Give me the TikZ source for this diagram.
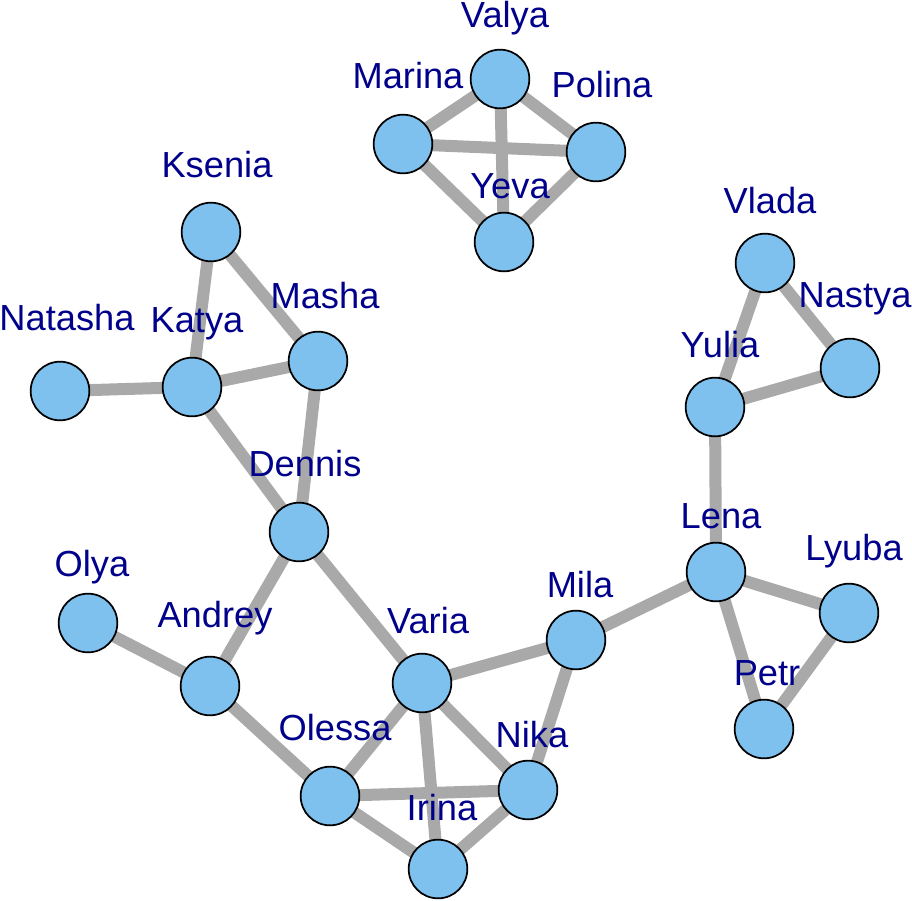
\documentclass[tikz,border=0pt]{standalone}
\usepackage{fontspec}
\setmainfont{Liberation Sans}
\usetikzlibrary{backgrounds}
\definecolor{vertexblue}{HTML}{7EC0EE}
\definecolor{tiegray}{HTML}{A9A9A9}
\definecolor{nameblue}{HTML}{00008B}

\begin{document}
\begin{tikzpicture}[x=0.75pt,y=-0.75pt,
    vertex/.style={circle, draw=black, line width=1.3pt, fill=vertexblue, minimum size=44pt, inner sep=0pt},
    namelabel/.style={anchor=base, text=nameblue, font=\fontsize{27.2}{30}\selectfont, inner sep=0pt},
    tieline/.style={draw=tiegray, line width=9pt}]
  \useasboundingbox (0,0) rectangle (912,900);

  % Top group
  \node[vertex] (valya) at (500,79) {};
  \node[vertex] (marina) at (403,144) {};
  \node[vertex] (polina) at (596,152) {};
  \node[vertex] (yeva) at (504,242) {};

  % Left group
  \node[vertex] (ksenia) at (211,232) {};
  \node[vertex] (natasha) at (60,391) {};
  \node[vertex] (katya) at (192,387) {};
  \node[vertex] (masha) at (318,361) {};
  \node[vertex] (dennis) at (299,532) {};

  % Right group
  \node[vertex] (vlada) at (765,263) {};
  \node[vertex] (nastya) at (850,368) {};
  \node[vertex] (yulia) at (715,407) {};
  \node[vertex] (lena) at (716,572) {};
  \node[vertex] (lyuba) at (849,613) {};
  \node[vertex] (petr) at (764,729) {};
  \node[vertex] (mila) at (576,640) {};

  % Bottom group
  \node[vertex] (olya) at (88,623) {};
  \node[vertex] (andrey) at (210,686) {};
  \node[vertex] (varia) at (422,683) {};
  \node[vertex] (olessa) at (330,796) {};
  \node[vertex] (nika) at (528,790) {};
  \node[vertex] (irina) at (438,869) {};

  % Ties, kept under the vertices
  \begin{pgfonlayer}{background}
    \draw[tieline] (valya.center) -- (marina.center);
    \draw[tieline] (valya.center) -- (polina.center);
    \draw[tieline] (valya.center) -- (yeva.center);
    \draw[tieline] (marina.center) -- (polina.center);
    \draw[tieline] (marina.center) -- (yeva.center);
    \draw[tieline] (polina.center) -- (yeva.center);

    \draw[tieline] (ksenia.center) -- (katya.center);
    \draw[tieline] (ksenia.center) -- (masha.center);
    \draw[tieline] (natasha.center) -- (katya.center);
    \draw[tieline] (katya.center) -- (masha.center);
    \draw[tieline] (katya.center) -- (dennis.center);
    \draw[tieline] (masha.center) -- (dennis.center);
    \draw[tieline] (dennis.center) -- (andrey.center);
    \draw[tieline] (dennis.center) -- (varia.center);

    \draw[tieline] (olya.center) -- (andrey.center);
    \draw[tieline] (andrey.center) -- (olessa.center);
    \draw[tieline] (varia.center) -- (olessa.center);
    \draw[tieline] (varia.center) -- (irina.center);
    \draw[tieline] (varia.center) -- (nika.center);
    \draw[tieline] (varia.center) -- (mila.center);
    \draw[tieline] (olessa.center) -- (nika.center);
    \draw[tieline] (olessa.center) -- (irina.center);
    \draw[tieline] (irina.center) -- (nika.center);

    \draw[tieline] (mila.center) -- (nika.center);
    \draw[tieline] (mila.center) -- (lena.center);
    \draw[tieline] (lena.center) -- (yulia.center);
    \draw[tieline] (lena.center) -- (lyuba.center);
    \draw[tieline] (lena.center) -- (petr.center);
    \draw[tieline] (lyuba.center) -- (petr.center);
    \draw[tieline] (yulia.center) -- (vlada.center);
    \draw[tieline] (yulia.center) -- (nastya.center);
    \draw[tieline] (vlada.center) -- (nastya.center);
  \end{pgfonlayer}

  % Names
  \node[namelabel] (valya-name) at (505,27) {Valya};
  \node[namelabel] (marina-name) at (408,88) {Marina};
  \node[namelabel] (polina-name) at (602,97) {Polina};
  \node[namelabel] (yeva-name) at (510,198) {Yeva};
  \node[namelabel] (ksenia-name) at (217,177) {Ksenia};
  \node[namelabel] (natasha-name) at (67,330) {Natasha};
  \node[namelabel] (katya-name) at (197,332) {Katya};
  \node[namelabel] (masha-name) at (325,308) {Masha};
  \node[namelabel] (dennis-name) at (305,476) {Dennis};
  \node[namelabel] (vlada-name) at (770,213) {Vlada};
  \node[namelabel] (nastya-name) at (855,307) {Nastya};
  \node[namelabel] (yulia-name) at (720,357) {Yulia};
  \node[namelabel] (lena-name) at (721,528) {Lena};
  \node[namelabel] (lyuba-name) at (854,560) {Lyuba};
  \node[namelabel] (petr-name) at (767,685) {Petr};
  \node[namelabel] (mila-name) at (580,597) {Mila};
  \node[namelabel] (olya-name) at (92,576) {Olya};
  \node[namelabel] (andrey-name) at (215,627) {Andrey};
  \node[namelabel] (varia-name) at (428,633) {Varia};
  \node[namelabel] (olessa-name) at (335,740) {Olessa};
  \node[namelabel] (nika-name) at (532,747) {Nika};
  \node[namelabel] (irina-name) at (442,820) {Irina};
\end{tikzpicture}
\end{document}
